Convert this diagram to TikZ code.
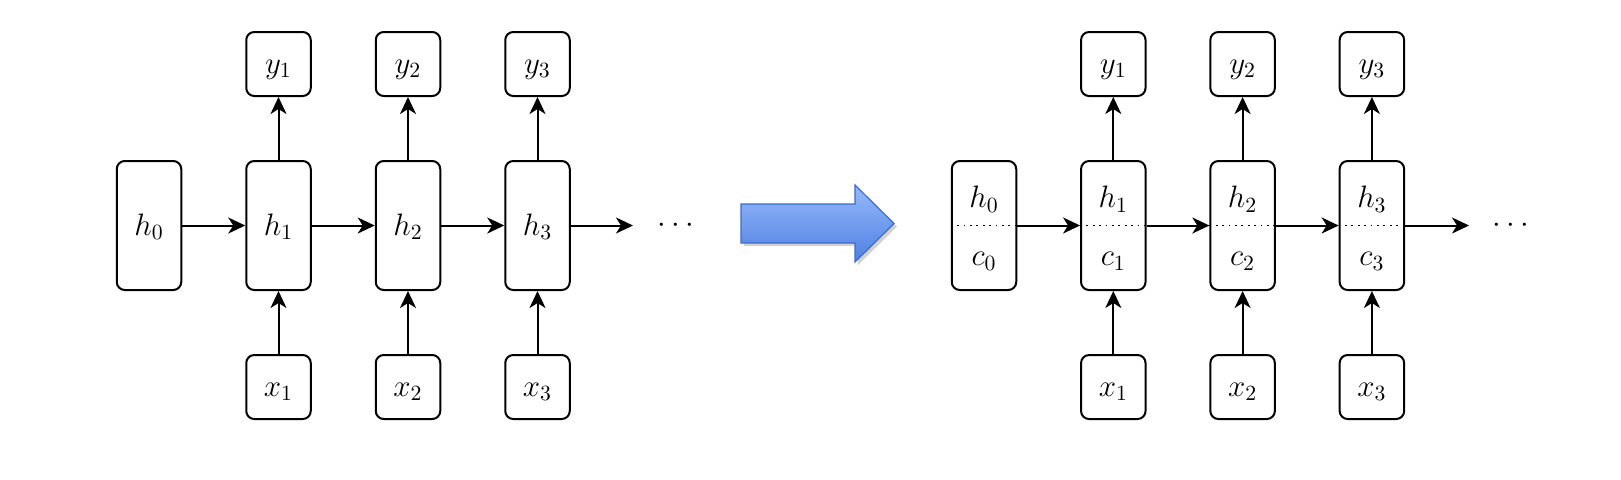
\RequirePackage{fix-cm}
\documentclass[tikz,border=0pt]{standalone}
\usetikzlibrary{arrows.meta,shadows}
\definecolor{arrtop}{RGB}{150,186,250}
\definecolor{arrbot}{RGB}{78,128,226}
\definecolor{arrline}{RGB}{58,108,206}
\begin{document}
\begin{tikzpicture}[x=0.5pt,y=-0.5pt,
  box/.style={draw=black,line width=1pt,rounded corners=4pt,fill=white,inner sep=0pt},
  tallbox/.style={box,minimum width=32.25pt,minimum height=64.5pt},
  smallbox/.style={box,minimum width=32.25pt,minimum height=32pt},
  lbl/.style={anchor=base,inner sep=0pt,font=\fontsize{15.5}{18}\selectfont},
  conn/.style={line width=1pt,-{Stealth[length=8.5pt,width=8pt,inset=2.5pt]}},
  dotline/.style={line width=0.9pt,dash pattern=on 0.9pt off 2.3pt},
  bigarrow/.style={draw=arrline,line width=0.6pt,top color=arrtop,bottom color=arrbot,
     drop shadow={shadow xshift=1.5pt,shadow yshift=-1.5pt,opacity=0.18,fill=black}}]
\useasboundingbox (0,0) rectangle (1621,479);

% ---------- left: simple RNN ----------
\node[tallbox] (h0) at (149,225.5) {};
\node[lbl] (h0l) at (149,235) {$h_0$};
\foreach \i/\x in {1/278.5,2/408,3/537.5}{
  \node[tallbox] (h\i) at (\x,225.5) {};
  \node[lbl] (h\i l) at (\x,235) {$h_\i$};
  \node[smallbox] (y\i) at (\x,64) {};
  \node[lbl] (y\i l) at (\x,73) {$y_\i$};
  \node[smallbox] (x\i) at (\x,387) {};
  \node[lbl] (x\i l) at (\x,396) {$x_\i$};
  \draw[conn] (h\i) -- (y\i);
  \draw[conn] (x\i) -- (h\i);
}
\draw[conn] (h0) -- (h1);
\draw[conn] (h1) -- (h2);
\draw[conn] (h2) -- (h3);
\coordinate (endL) at (633,225.5);
\draw[conn] (h3) -- (endL);
\node[lbl] (dotsL) at (676,232) {$\cdots$};

% ---------- big arrow ----------
\path[bigarrow] (741,204) -- (855,204) -- (855,185) -- (894,223.5)
   -- (855,262) -- (855,243) -- (741,243) -- cycle;

% ---------- right: LSTM ----------
\node[tallbox] (c0) at (984,225.5) {};
\node[lbl] (c0h) at (984,207.5) {$h_0$};
\node[lbl] (c0c) at (984,265.5) {$c_0$};
\draw[dotline] (c0.west) -- (c0.east);
\foreach \i/\x in {1/1113.3,2/1242.6,3/1371.9}{
  \node[tallbox] (c\i) at (\x,225.5) {};
  \node[lbl] (c\i h) at (\x,207.5) {$h_\i$};
  \node[lbl] (c\i c) at (\x,265.5) {$c_\i$};
  \draw[dotline] (c\i.west) -- (c\i.east);
  \node[smallbox] (ry\i) at (\x,64) {};
  \node[lbl] (ry\i l) at (\x,73) {$y_\i$};
  \node[smallbox] (rx\i) at (\x,387) {};
  \node[lbl] (rx\i l) at (\x,396) {$x_\i$};
  \draw[conn] (c\i) -- (ry\i);
  \draw[conn] (rx\i) -- (c\i);
}
\draw[conn] (c0) -- (c1);
\draw[conn] (c1) -- (c2);
\draw[conn] (c2) -- (c3);
\coordinate (endR) at (1469,225.5);
\draw[conn] (c3) -- (endR);
\node[lbl] (dotsR) at (1511,232) {$\cdots$};
\end{tikzpicture}
\end{document}
